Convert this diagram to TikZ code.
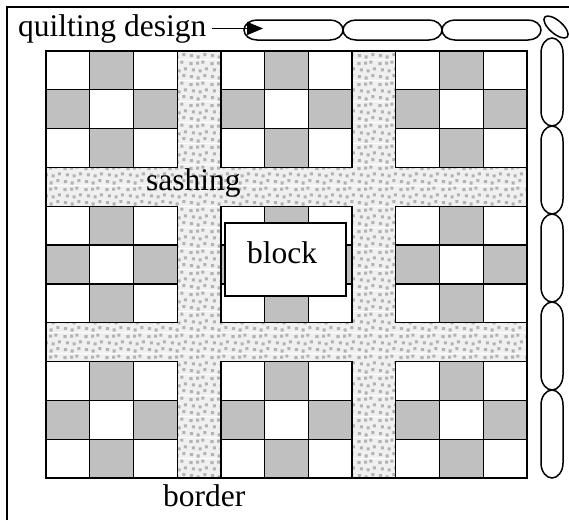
\documentclass[tikz,border=0pt]{standalone}
\usepackage{fontspec}
\setmainfont{Liberation Serif}
\usetikzlibrary{arrows.meta,shapes.geometric,patterns}

\pgfdeclarepatterninherentlycolored{quiltdots}
{\pgfpointorigin}{\pgfqpoint{21pt}{21pt}}{\pgfqpoint{21pt}{21pt}}
{%
 \pgfsetfillcolor{black!6}%
 \pgfpathrectangle{\pgfpointorigin}{\pgfqpoint{21pt}{21pt}}%
 \pgfusepath{fill}%
 \pgfsetfillcolor{black!30}%
 \pgfpathrectangle{\pgfqpoint{1pt}{2pt}}{\pgfqpoint{3.2pt}{3.2pt}}%
 \pgfpathrectangle{\pgfqpoint{8pt}{0.5pt}}{\pgfqpoint{3.2pt}{3.2pt}}%
 \pgfpathrectangle{\pgfqpoint{15pt}{3pt}}{\pgfqpoint{3.2pt}{3.2pt}}%
 \pgfpathrectangle{\pgfqpoint{3pt}{9pt}}{\pgfqpoint{3.2pt}{3.2pt}}%
 \pgfpathrectangle{\pgfqpoint{10pt}{8pt}}{\pgfqpoint{3.2pt}{3.2pt}}%
 \pgfpathrectangle{\pgfqpoint{16.5pt}{10pt}}{\pgfqpoint{3.2pt}{3.2pt}}%
 \pgfpathrectangle{\pgfqpoint{0.5pt}{15.5pt}}{\pgfqpoint{3.2pt}{3.2pt}}%
 \pgfpathrectangle{\pgfqpoint{7.5pt}{16pt}}{\pgfqpoint{3.2pt}{3.2pt}}%
 \pgfpathrectangle{\pgfqpoint{13pt}{17pt}}{\pgfqpoint{3.2pt}{3.2pt}}%
 \pgfusepath{fill}%
}

\definecolor{patchgray}{HTML}{C0C0C0}

\begin{document}
\begin{tikzpicture}[x=1pt,y=-1pt,
  lbl/.style={font=\fontsize{31.5}{34}\selectfont, inner sep=0pt},
  edgeline/.style={line width=1.3pt},
  ovalline/.style={draw, line width=1.5pt},
  tiltoval/.style={draw, line width=1.5pt, ellipse, inner sep=0pt,
                minimum width=30pt, minimum height=13pt, rotate=-41},
  arr/.style={line width=1.5pt, -{Triangle[length=16pt,width=13pt]}}
]
\useasboundingbox (0,0) rectangle (569,520);

% frame (clipped by picture edge)
\draw[line width=1.6pt] (7,520) -- (7,7) -- (569,7);

% quilt top: sashing background
\def\cw{43.7273}
\def\ch{38.8182}
\fill[pattern=quiltdots] (46,51) rectangle (527,478);

% blocks
\foreach \bi in {0,1,2} {
 \foreach \bj in {0,1,2} {
  \foreach \i in {0,1,2} {
   \foreach \j in {0,1,2} {
    \pgfmathtruncatemacro\odd{mod(\i+\j,2)}
    \pgfmathsetmacro\xa{46+(4*\bi+\i)*\cw}
    \pgfmathsetmacro\ya{51+(4*\bj+\j)*\ch}
    \ifnum\odd=1 \def\cc{patchgray}\else\def\cc{white}\fi
    \draw[edgeline, fill=\cc] (\xa,\ya) rectangle ++(\cw,\ch);
   }
  }
 }
}
\draw[edgeline] (46,51) rectangle (527,478);

% block label box
\node[draw, fill=white, line width=1.3pt, minimum width=121pt, minimum height=73pt, inner sep=0pt] (blockbox) at (285.5,259.5) {};
\node[lbl, anchor=base west] (blocklbl) at (247,263) {block};

% labels
\node[lbl, anchor=base west] (quilt) at (18,36) {quilting design};
\node[lbl, anchor=base west] (sash) at (146,190) {sashing};
\node[lbl, anchor=base west] (bord) at (163,506) {border};

% quilting design ovals (top row)
\foreach \xl in {244,343,442} {
  \pgfmathsetmacro\xr{\xl+99}
  \draw[ovalline] (\xl+13,20) -- (\xr-13,20)
     arc[start angle=-90, end angle=90, x radius=13, y radius=10]
     -- (\xl+13,40)
     arc[start angle=90, end angle=270, x radius=13, y radius=10] -- cycle;
}
\node[tiltoval] (corner) at (556,27) {};
% right column
\foreach \yt in {38,126,214,302,390} {
  \pgfmathsetmacro\yb{\yt+88}
  \draw[ovalline] (541,\yt+15) -- (541,\yb-15)
     arc[start angle=180, end angle=0, x radius=11, y radius=15]
     -- (563,\yt+15)
     arc[start angle=0, end angle=-180, x radius=11, y radius=15] -- cycle;
}

% arrow
\coordinate (tip) at (263,28);
\draw[arr, shorten <=5pt] (quilt.east) -- (quilt.east -| tip);
\end{tikzpicture}
\end{document}
